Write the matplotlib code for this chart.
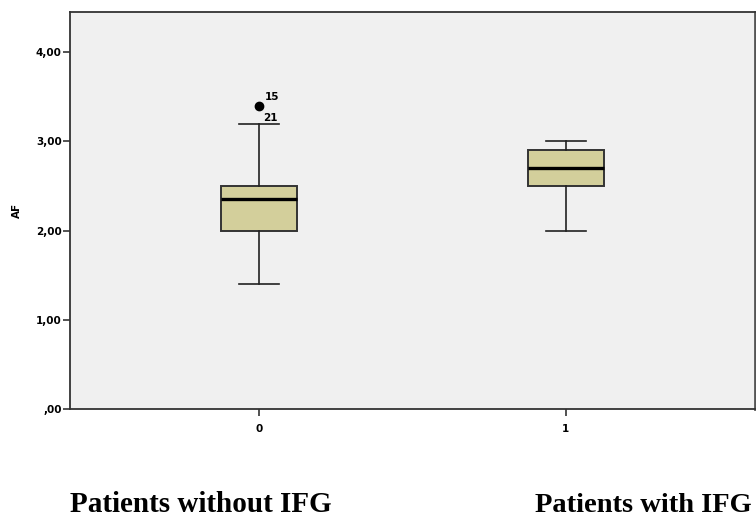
import matplotlib.pyplot as plt

# group codes and box statistics
groups = [0, 1]
q1 = [2.00, 2.50]
medians = [2.35, 2.70]
q3 = [2.50, 2.90]
whislo = [1.40, 2.00]
whishi = [3.20, 3.00]
outliers = [[3.40], []]
outlier_ids = [["15", "21"], []]

yticks = [0, 1, 2, 3, 4]
ytick_labels = [",00", "1,00", "2,00", "3,00", "4,00"]
group_names = ["Patients without IFG", "Patients with IFG"]

stats = []
for i in range(len(groups)):
    stats.append(dict(q1=q1[i], med=medians[i], q3=q3[i],
                      whislo=whislo[i], whishi=whishi[i], fliers=outliers[i]))

fig = plt.figure(figsize=(7.56, 5.21), dpi=100)
ax = fig.add_axes([0.0926, 0.215, 0.906, 0.762])
ax.set_facecolor("#f0f0f0")

ax.bxp(stats, positions=groups, widths=0.25, patch_artist=True,
       boxprops=dict(facecolor="#d3cf9b", edgecolor="#333333", linewidth=1.4),
       medianprops=dict(color="black", linewidth=2.4),
       whiskerprops=dict(color="#222222", linewidth=1.2),
       capprops=dict(color="#222222", linewidth=1.2),
       capwidths=0.13,
       flierprops=dict(marker="o", markerfacecolor="black", markeredgecolor="black",
                       markersize=6))

# case numbers beside the outlier
for i in range(len(groups)):
    for v in outliers[i]:
        ax.annotate(outlier_ids[i][0], (groups[i], v), xytext=(4, 4),
                    textcoords="offset points", fontsize=7.5, fontweight="bold")
        ax.annotate(outlier_ids[i][1], (groups[i], v), xytext=(3, -11),
                    textcoords="offset points", fontsize=7.5, fontweight="bold")

ax.set_xlim(-0.616, 1.616)
ax.set_ylim(0, 4.45)
ax.set_yticks(yticks)
ax.set_yticklabels(ytick_labels, fontsize=7.5, fontweight="bold")
ax.set_xticks(groups)
ax.set_xticklabels([str(g) for g in groups], fontsize=7.5, fontweight="bold")
ax.tick_params(axis="both", length=5, width=1.2, color="#333333")
ax.tick_params(axis="y", pad=1)
ax.tick_params(axis="x", pad=6)
ax.set_ylabel("AF", fontsize=7.5, fontweight="bold", labelpad=10)

for s in ["left", "bottom", "top"]:
    ax.spines[s].set_color("#333333")
    ax.spines[s].set_linewidth(1.3)
ax.spines["right"].set_color("#555555")
ax.spines["right"].set_linewidth(2)

fig.text(70 / 756, 1 - 505 / 521, group_names[0], family="Liberation Serif",
         fontweight="bold", fontsize=21, va="center", ha="left")
fig.text(535 / 756, 1 - 505 / 521, group_names[1], family="Liberation Serif",
         fontweight="bold", fontsize=20.5, va="center", ha="left")

fig.savefig("out.png", dpi=100)
